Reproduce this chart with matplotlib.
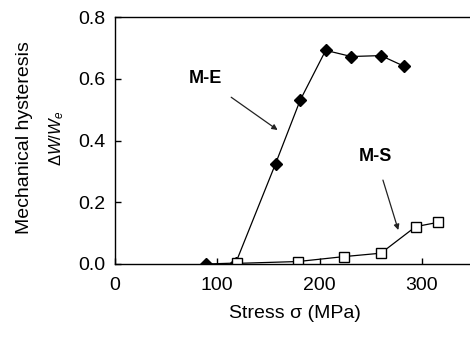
import matplotlib
matplotlib.use("Agg")
from matplotlib import pyplot as plt

plt.rcParams['font.family'] = ['Liberation Sans', 'DejaVu Sans']
plt.rcParams['mathtext.fontset'] = 'custom'
plt.rcParams['mathtext.it'] = 'Liberation Sans:italic'
plt.rcParams['mathtext.rm'] = 'Liberation Sans'

# M-E series (filled diamonds)
me_stress = [89, 118, 157, 181, 206, 231, 260, 283]
me_hyst = [0.0, 0.003, 0.325, 0.53, 0.692, 0.672, 0.675, 0.64]

# M-S series (open squares)
ms_stress = [119, 179, 224, 260, 294, 316]
ms_hyst = [0.002, 0.008, 0.024, 0.035, 0.121, 0.135]

fig = plt.figure(figsize=(4.70, 3.38), dpi=100)
ax = fig.add_axes([115/470, 1 - 264/338, 360/470, 247/338])

ax.plot(me_stress, me_hyst, color='black', lw=0.9, marker='D',
        markersize=6.5, markerfacecolor='black', markeredgecolor='black')
ax.plot(ms_stress, ms_hyst, color='black', lw=0.9, marker='s',
        markersize=7, markerfacecolor='white', markeredgecolor='black',
        markeredgewidth=1.0)

ax.annotate('M-E', xy=(159, 0.434), xytext=(88, 0.60), ha='center', va='center',
            fontsize=13, fontweight='bold',
            arrowprops=dict(arrowstyle='-|>', color='#222222', lw=0.9,
                            shrinkA=9, shrinkB=0, mutation_scale=8))
ax.annotate('M-S', xy=(277, 0.11), xytext=(255, 0.347), ha='center', va='center',
            fontsize=13, fontweight='bold',
            arrowprops=dict(arrowstyle='-|>', color='#222222', lw=0.9,
                            shrinkA=9, shrinkB=0, mutation_scale=8))

ax.set_xlim(0, 352)
ax.set_ylim(0, 0.8)
ax.set_xticks([0, 100, 200, 300])
ax.set_yticks([0.0, 0.2, 0.4, 0.6, 0.8])
ax.set_yticklabels(['0.0', '0.2', '0.4', '0.6', '0.8'])
ax.tick_params(direction='in', length=4, width=1, labelsize=14)
ax.tick_params(axis='y', pad=7)
ax.tick_params(axis='x', pad=9)
for s in ax.spines.values():
    s.set_linewidth(1.0)

ax.set_xlabel('Stress σ (MPa)', fontsize=14, labelpad=8)
fig.text(25/470, 1 - 138/338, 'Mechanical hysteresis', rotation=90,
         ha='center', va='center', fontsize=14)
fig.text(57/470, 1 - 138/338, r'$\Delta W/W_e$', rotation=90,
         ha='center', va='center', fontsize=12)

fig.savefig('out.png', dpi=100)
